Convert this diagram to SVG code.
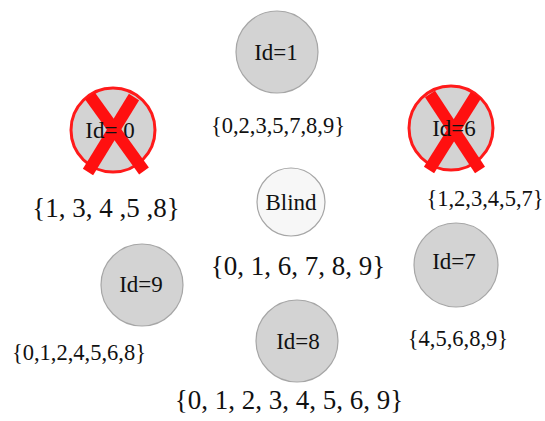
<svg xmlns="http://www.w3.org/2000/svg" width="545" height="421" viewBox="0 0 545 421">
<style>
.n{fill:#d3d3d3;stroke:#a6a6a6;stroke-width:1.2}
.b{fill:#f7f7f7;stroke:#a6a6a6;stroke-width:1.2}
.dead{fill:#d3d3d3;stroke:#ff1a1a;stroke-width:3}
.x{stroke:#ff1010;stroke-width:12;stroke-linecap:butt}
text{font-family:"Liberation Serif","Times New Roman",serif;fill:#111;text-anchor:middle}
.t{font-size:23px}
.s{font-size:22.5px}
.l{font-size:27px}
</style>
<rect width="545" height="421" fill="#fff"/>
<g id="node1">
<circle class="n" cx="277" cy="52" r="41"/>
<text class="t" x="276" y="60">Id=1</text>
<text class="s" x="278" y="133">{0,2,3,5,7,8,9}</text>
</g>
<g id="node0">
<circle class="dead" cx="113" cy="130" r="42"/>
<line class="x" x1="90" y1="96" x2="144" y2="171"/>
<line class="x" x1="134" y1="97" x2="88" y2="172"/>
<text class="t" x="110" y="138">Id= 0</text>
<text class="l" x="106" y="217">{1, 3, 4 ,5 ,8}</text>
</g>
<g id="node6">
<circle class="dead" cx="451" cy="128" r="42"/>
<line class="x" x1="430" y1="94" x2="480" y2="170"/>
<line class="x" x1="476" y1="95" x2="429" y2="170"/>
<text class="t" x="454" y="136">Id=6</text>
<text class="s" x="485" y="206">{1,2,3,4,5,7}</text>
</g>
<g id="blind">
<circle class="b" cx="291" cy="202" r="34"/>
<text class="t" x="291" y="210">Blind</text>
<text class="l" x="298" y="275">{0, 1, 6, 7, 8, 9}</text>
</g>
<g id="node9">
<circle class="n" cx="142" cy="285" r="41"/>
<text class="t" x="141" y="292">Id=9</text>
<text class="s" x="79" y="360">{0,1,2,4,5,6,8}</text>
</g>
<g id="node7">
<circle class="n" cx="456" cy="265" r="42"/>
<text class="t" x="454" y="269">Id=7</text>
<text class="s" x="458" y="346">{4,5,6,8,9}</text>
</g>
<g id="node8">
<circle class="n" cx="297" cy="341" r="41"/>
<text class="t" x="298" y="349">Id=8</text>
<text class="l" x="289" y="409">{0, 1, 2, 3, 4, 5, 6, 9}</text>
</g>
<g id="connectors"/>
</svg>
